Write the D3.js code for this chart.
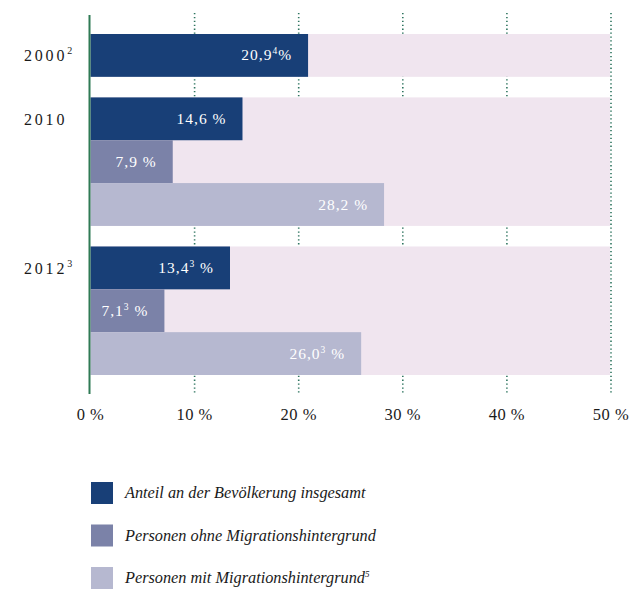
<!DOCTYPE html>
<html><head><meta charset="utf-8">
<script src="https://cdn.jsdelivr.net/npm/d3@7"></script>
<style>
body{margin:0;background:#fff;}
text{font-family:"Liberation Serif","Times New Roman",serif;}
</style></head>
<body><svg id="c" width="632" height="589"></svg>
<script>
const years = ["2000", "2010", "2012"];
const yearNotes = ["2", "", "3"];
const series = ["Anteil an der Bevölkerung insgesamt", "Personen ohne Migrationshintergrund", "Personen mit Migrationshintergrund"];
const seriesNotes = ["", "", "5"];
const values2000 = [20.9];
const values2010 = [14.6, 7.9, 28.2];
const values2012 = [13.4, 7.1, 26.0];
const valueLabels2000 = [["20,9", "4", "%"]];
const valueLabels2010 = [["14,6", "", " %"], ["7,9", "", " %"], ["28,2", "", " %"]];
const valueLabels2012 = [["13,4", "3", " %"], ["7,1", "3", " %"], ["26,0", "3", " %"]];
const ticks = [0, 10, 20, 30, 40, 50];
const colors = ["#183f77", "#7b82a8", "#b6b8d0"];
const bgColor = "#f0e5ef";
const gridColor = "#2f7560";

const svg = d3.select("#c");
const x = d3.scaleLinear().domain([0, 50]).range([90.5, 611]);
const gap = 0.48;
const y = d3.scaleLinear().domain([0, 7 + 2 * gap]).range([34, 375]);
const groups = [
  {year: years[0], note: yearNotes[0], vals: values2000, labels: valueLabels2000},
  {year: years[1], note: yearNotes[1], vals: values2010, labels: valueLabels2010},
  {year: years[2], note: yearNotes[2], vals: values2012, labels: valueLabels2012}
];
let u = 0;
groups.forEach(g => { g.start = u; u += g.vals.length + gap; });

// gridlines
svg.append("g").selectAll("line").data(ticks.slice(1)).join("line")
  .attr("x1", d => x(d)).attr("x2", d => x(d))
  .attr("y1", 13).attr("y2", 394)
  .attr("stroke", gridColor).attr("stroke-width", 1.6)
  .attr("stroke-dasharray", "1.3,2.6");

// backgrounds
svg.append("g").selectAll("rect").data(groups).join("rect")
  .attr("x", x(0)).attr("width", x(50) - x(0) - 1)
  .attr("y", d => y(d.start)).attr("height", d => y(d.start + d.vals.length) - y(d.start))
  .attr("fill", bgColor);

// bars
groups.forEach(g => {
  const gg = svg.append("g");
  g.vals.forEach((v, i) => {
    const y0 = y(g.start + i), y1 = y(g.start + i + 1);
    gg.append("rect").attr("x", x(0)).attr("width", x(v) - x(0))
      .attr("y", y0).attr("height", y1 - y0).attr("fill", colors[i]);
    const lab = g.labels[i];
    const t = gg.append("text").attr("x", x(v) - 16).attr("y", (y0 + y1) / 2 + 5)
      .attr("text-anchor", "end").attr("fill", "#fff").attr("font-size", 15.5)
      .attr("letter-spacing", 1);
    t.append("tspan").text(lab[0]);
    if (lab[1]) t.append("tspan").attr("font-size", 9.5).attr("dy", -6).text(lab[1]);
    t.append("tspan").attr("dy", lab[1] ? 6 : 0).text(lab[2]);
  });
  const ty = y(g.start) + (y(g.start + 1) - y(g.start)) / 2 + 6;
  const t = svg.append("text").attr("x", 24).attr("y", ty).attr("font-size", 16)
    .attr("letter-spacing", 2.8).attr("fill", "#1a1a1a");
  t.append("tspan").text(g.year);
  if (g.note) t.append("tspan").attr("font-size", 10).attr("dy", -7).text(g.note);
});

// axis line
svg.append("line").attr("x1", 89.5).attr("x2", 89.5).attr("y1", 15).attr("y2", 394)
  .attr("stroke", "#2f7a55").attr("stroke-width", 2);

// tick labels
svg.append("g").selectAll("text").data(ticks).join("text")
  .attr("x", d => x(d)).attr("y", 420).attr("text-anchor", "middle")
  .attr("font-size", 16.5).attr("fill", "#1a1a1a").attr("letter-spacing", 0.5)
  .text(d => d + " %");

// legend
const lg = svg.append("g").selectAll("g").data(series).join("g")
  .attr("transform", (d, i) => `translate(91,${482 + i * 42.5})`);
lg.append("rect").attr("width", 22).attr("height", 22).attr("fill", (d, i) => colors[i]);
const lt = lg.append("text").attr("x", 34).attr("y", 16).attr("font-size", 16.3)
  .attr("font-style", "italic").attr("fill", "#1a1a1a");
lt.append("tspan").text(d => d);
lt.append("tspan").attr("font-size", 9).attr("dy", -6).text((d, i) => seriesNotes[i]);
</script></body></html>
